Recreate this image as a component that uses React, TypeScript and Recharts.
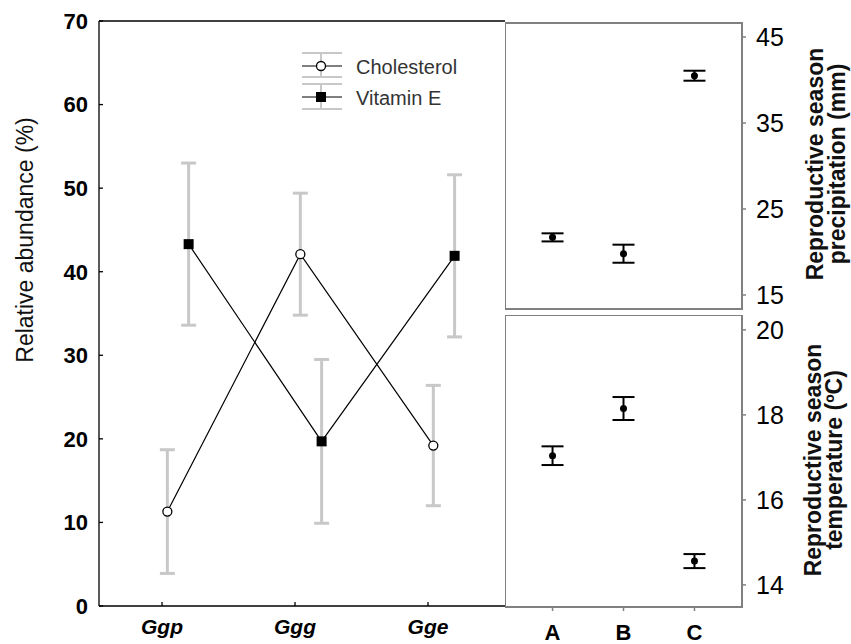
import React from 'react';
import { ScatterChart, Scatter, XAxis, YAxis, ErrorBar, ReferenceLine, ReferenceArea, Legend } from 'recharts';

// ---------- data ----------
const groups = ['Ggp', 'Ggg', 'Gge'];
const cholesterolMean = [11.3, 42.1, 19.2];
const cholesterolErr = [7.4, 7.3, 7.2];
const vitaminEMean = [43.3, 19.7, 41.9];
const vitaminEErr = [9.7, 9.8, 9.7];
const abundanceTicks = [0, 10, 20, 30, 40, 50, 60, 70];

const sites = ['A', 'B', 'C'];
const precipMean = [21.7, 19.8, 40.5];
const precipErr = [0.47, 1.05, 0.58];
const precipTicks = [15, 25, 35, 45];
const tempMean = [17.04, 18.15, 14.56];
const tempErr = [0.22, 0.27, 0.165];
const tempTicks = [14, 16, 18, 20];

// ---------- layout / style ----------
const FONT = '"Liberation Sans", Arial, Helvetica, sans-serif';
const GREY = '#808080';
const ERR_GREY = '#c8c8c8';
const LEFT_X_DOMAIN: [number, number] = [0.526, 3.579];
const CHOL_DODGE = 0.04;
const VIT_DODGE = 0.2;
const RIGHT_X_DOMAIN: [number, number] = [0.33, 3.67];
const PRECIP_DOMAIN: [number, number] = [13.37, 46.63];
const TEMP_DOMAIN: [number, number] = [13.48, 20.35];

const cholData = groups.map((g, i) => ({ x: i + 1 + CHOL_DODGE, y: cholesterolMean[i], err: cholesterolErr[i], name: g }));
const vitData = groups.map((g, i) => ({ x: i + 1 + VIT_DODGE, y: vitaminEMean[i], err: vitaminEErr[i], name: g }));
const precipData = sites.map((s, i) => ({ x: i + 1, y: precipMean[i], err: precipErr[i], name: s }));
const tempData = sites.map((s, i) => ({ x: i + 1, y: tempMean[i], err: tempErr[i], name: s }));

const Empty = () => <g />;
const OpenCircle = (p: any) => <circle cx={p.cx} cy={p.cy} r={4.5} fill="#fff" stroke="#000" strokeWidth={1.3} />;
const Square = (p: any) => <rect x={p.cx - 5} y={p.cy - 5} width={10} height={10} fill="#000" />;
const Dot = (p: any) => <circle cx={p.cx} cy={p.cy} r={3.5} fill="#000" />;

const RotTitle = (props: any) => {
  const { viewBox, lines, offsets, cy, size, weight } = props;
  const vb = viewBox || { x: 0, y: 0, width: 0, height: 0 };
  const centerY = cy !== undefined ? cy : vb.y + vb.height / 2;
  return (
    <g>
      {lines.map((ln: string, i: number) => {
        const cx = vb.x + offsets[i];
        return (
          <text
            key={i}
            x={cx}
            y={centerY}
            textAnchor="middle"
            dominantBaseline="central"
            transform={`rotate(-90, ${cx}, ${centerY})`}
            fontFamily={FONT}
            fontSize={size}
            fontWeight={weight}
            fill="#111"
          >
            {ln}
          </text>
        );
      })}
    </g>
  );
};

const LegendBox = () => (
  <svg width={190} height={72} style={{ display: 'block', overflow: 'visible' }}>
    {/* Cholesterol */}
    <line x1={6} x2={46} y1={9} y2={9} stroke={ERR_GREY} strokeWidth={2} />
    <line x1={6} x2={46} y1={33} y2={33} stroke={ERR_GREY} strokeWidth={2} />
    <line x1={25} x2={25} y1={9} y2={33} stroke={ERR_GREY} strokeWidth={2} />
    <line x1={6} x2={46} y1={22} y2={22} stroke="#000" strokeWidth={1.2} />
    <circle cx={25} cy={22} r={4.5} fill="#fff" stroke="#000" strokeWidth={1.3} />
    <text x={60} y={30} fontFamily={FONT} fontSize={20} fill="#333">Cholesterol</text>
    {/* Vitamin E */}
    <line x1={6} x2={46} y1={40} y2={40} stroke={ERR_GREY} strokeWidth={2} />
    <line x1={6} x2={46} y1={65} y2={65} stroke={ERR_GREY} strokeWidth={2} />
    <line x1={25} x2={25} y1={40} y2={65} stroke={ERR_GREY} strokeWidth={2} />
    <line x1={6} x2={46} y1={53} y2={53} stroke="#000" strokeWidth={1.2} />
    <rect x={20} y={48} width={10} height={10} fill="#000" />
    <text x={60} y={61} fontFamily={FONT} fontSize={20} fill="#333">Vitamin E</text>
  </svg>
);

export default function App() {
  return (
    <div style={{ position: 'absolute', left: 0, top: 0, width: 851, height: 644, background: '#fff', fontFamily: FONT }}>
      {/* Left panel */}
      <div style={{ position: 'absolute', left: 0, top: 0 }}>
        <ScatterChart width={505} height={644} margin={{ top: 21, right: 0, bottom: 8, left: 0 }}>
          <XAxis
            type="number"
            dataKey="x"
            domain={LEFT_X_DOMAIN}
            allowDataOverflow
            ticks={[1, 2, 3]}
            interval={0}
            tickFormatter={(v: number) => groups[Math.round(v) - 1]}
            height={30}
            tickSize={-4}
            tickMargin={17}
            axisLine={{ stroke: '#000', strokeWidth: 1.3 }}
            tickLine={{ stroke: '#000', strokeWidth: 1.3 }}
            tick={{ fill: '#000', fontSize: 21, fontWeight: 700, fontStyle: 'italic', fontFamily: FONT }}
          />
          <YAxis
            type="number"
            dataKey="y"
            domain={[0, 70]}
            allowDataOverflow
            ticks={abundanceTicks}
            interval={0}
            width={99}
            tickSize={-4}
            tickMargin={15}
            axisLine={{ stroke: '#000', strokeWidth: 1.3 }}
            tickLine={{ stroke: '#000', strokeWidth: 1.3 }}
            tick={{ fill: '#000', fontSize: 22, fontWeight: 700, fontFamily: FONT }}
            label={{
              content: (p: any) => (
                <RotTitle viewBox={p.viewBox} lines={['Relative abundance (%)']} offsets={[25]} cy={240} size={23} weight={400} />
              ),
            }}
          />
          <ReferenceLine y={70} stroke="#000" strokeWidth={1.3} ifOverflow="visible" />
          <Scatter data={cholData} shape={Empty} isAnimationActive={false}>
            <ErrorBar dataKey="err" direction="y" width={7.5} stroke={ERR_GREY} strokeWidth={3} />
          </Scatter>
          <Scatter data={vitData} shape={Empty} isAnimationActive={false}>
            <ErrorBar dataKey="err" direction="y" width={7.5} stroke={ERR_GREY} strokeWidth={3} />
          </Scatter>
          <Scatter data={cholData} line={{ stroke: '#000', strokeWidth: 1.2 }} shape={OpenCircle} isAnimationActive={false} />
          <Scatter data={vitData} line={{ stroke: '#000', strokeWidth: 1.2 }} shape={Square} isAnimationActive={false} />
          <Legend
            layout="horizontal"
            verticalAlign="middle"
            align="center"
            content={() => <LegendBox />}
            wrapperStyle={{ left: 296, top: 44, width: 190, height: 72 }}
          />
        </ScatterChart>
      </div>

      {/* Top right panel: precipitation */}
      <div style={{ position: 'absolute', left: 505, top: 0 }}>
        <ScatterChart width={346} height={315} margin={{ top: 23, right: 0, bottom: 0, left: 0 }}>
          <XAxis
            type="number"
            dataKey="x"
            domain={RIGHT_X_DOMAIN}
            allowDataOverflow
            ticks={[1, 2, 3]}
            interval={0}
            height={6}
            tickSize={4}
            tick={false}
            axisLine={false}
            tickLine={{ stroke: GREY, strokeWidth: 1.5 }}
          />
          <YAxis
            orientation="right"
            type="number"
            dataKey="y"
            domain={PRECIP_DOMAIN}
            allowDataOverflow
            ticks={precipTicks}
            interval={0}
            width={109}
            tickSize={4}
            tickMargin={10}
            axisLine={false}
            tickLine={{ stroke: GREY, strokeWidth: 1.5 }}
            tick={{ fill: '#000', fontSize: 25, fontFamily: FONT }}
            label={{
              content: (p: any) => (
                <RotTitle viewBox={p.viewBox} lines={['Reproductive season', 'precipitation (mm)']} offsets={[73, 95]} cy={164} size={23} weight={700} />
              ),
            }}
          />
          <ReferenceArea
            x1={RIGHT_X_DOMAIN[0]}
            x2={RIGHT_X_DOMAIN[1]}
            y1={PRECIP_DOMAIN[0]}
            y2={PRECIP_DOMAIN[1]}
            fill="none"
            stroke={GREY}
            strokeWidth={2}
            ifOverflow="visible"
          />
          <Scatter data={precipData} shape={Dot} isAnimationActive={false}>
            <ErrorBar dataKey="err" direction="y" width={11} stroke="#000" strokeWidth={2} />
          </Scatter>
        </ScatterChart>
      </div>

      {/* Bottom right panel: temperature */}
      <div style={{ position: 'absolute', left: 505, top: 315 }}>
        <ScatterChart width={346} height={329} margin={{ top: 0, right: 0, bottom: 0, left: 0 }}>
          <XAxis
            type="number"
            dataKey="x"
            domain={RIGHT_X_DOMAIN}
            allowDataOverflow
            ticks={[1, 2, 3]}
            interval={0}
            tickFormatter={(v: number) => sites[Math.round(v) - 1]}
            height={37}
            tickSize={4}
            tickMargin={13}
            axisLine={false}
            tickLine={{ stroke: GREY, strokeWidth: 1.5 }}
            tick={{ fill: '#000', fontSize: 22, fontWeight: 700, fontFamily: FONT }}
          />
          <YAxis
            orientation="right"
            type="number"
            dataKey="y"
            domain={TEMP_DOMAIN}
            allowDataOverflow
            ticks={tempTicks}
            interval={0}
            width={109}
            tickSize={4}
            tickMargin={10}
            axisLine={false}
            tickLine={{ stroke: GREY, strokeWidth: 1.5 }}
            tick={{ fill: '#000', fontSize: 25, fontFamily: FONT }}
            label={{
              content: (p: any) => (
                <RotTitle viewBox={p.viewBox} lines={['Reproductive season', 'temperature (ºC)']} offsets={[71, 92]} cy={145} size={23} weight={700} />
              ),
            }}
          />
          <ReferenceArea
            x1={RIGHT_X_DOMAIN[0]}
            x2={RIGHT_X_DOMAIN[1]}
            y1={TEMP_DOMAIN[0]}
            y2={TEMP_DOMAIN[1]}
            fill="none"
            stroke={GREY}
            strokeWidth={2}
            ifOverflow="visible"
          />
          <Scatter data={tempData} shape={Dot} isAnimationActive={false}>
            <ErrorBar dataKey="err" direction="y" width={11} stroke="#000" strokeWidth={2} />
          </Scatter>
        </ScatterChart>
      </div>
    </div>
  );
}
